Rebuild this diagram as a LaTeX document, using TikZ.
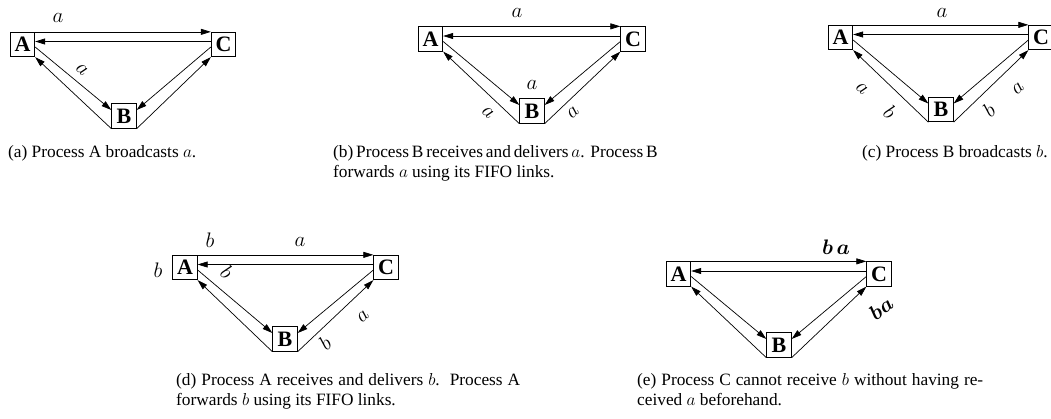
\RequirePackage{fix-cm}
\documentclass[tikz,border=0pt]{standalone}
\usepackage{fontspec}
\setmainfont{Liberation Serif}
\usepackage{bm}
\usetikzlibrary{arrows.meta}
\tikzset{
 box/.style={draw, line width=0.8pt, minimum size=24.5pt, inner sep=0pt, font=\fontsize{22}{22}\selectfont\bfseries},
 arr/.style={line width=0.7pt, -{Triangle[length=10pt,width=6pt]}},
 lab/.style={inner sep=0pt, font=\fontsize{21}{21}\selectfont},
 captext/.style={anchor=base west, inner sep=0pt, font=\fontsize{17.3}{20}\selectfont},
}
\newcommand\mytri[7]{%
 \node[box] (#1A) at (#2,#3) {A};
 \node[box] (#1C) at (#4,#5) {C};
 \node[box] (#1B) at (#6,#7) {B};
 \draw[arr] (#1A.north east) -- (#1C.north west);
 \draw[arr] ([yshift=3pt]#1C.west) -- ([yshift=3pt]#1A.east);
 \draw[arr] ([yshift=-2.5pt]#1A.east) -- ([yshift=6pt]#1B.west);
 \draw[arr] (#1B.south west) -- (#1A.south east);
 \draw[arr] ([yshift=-2.5pt]#1C.west) -- ([yshift=6pt]#1B.east);
 \draw[arr] (#1B.south east) -- (#1C.south west);
}
\begin{document}
\begin{tikzpicture}[x=1pt,y=-1pt]
\useasboundingbox (0,0) rectangle (1051,418);
% (a)
\mytri{a}{22.5}{44.5}{223.5}{44.5}{124}{116}
\node[lab] (la1) at (58,18) {$a$};
\node[lab,rotate=-42] (la2) at (82,70) {$a$};
% (b)
\mytri{b}{430.5}{39}{633}{39}{532}{111}
\node[lab] (lb1) at (517,13) {$a$};
\node[lab] (lb2) at (532,85) {$a$};
\node[lab,rotate=-42] (lb3) at (488,113) {$a$};
\node[lab,rotate=42] (lb4) at (573,113) {$a$};
% (c)
\mytri{c}{840.5}{37.5}{1041}{37.5}{941}{109.5}
\node[lab] (lc1) at (942,13) {$a$};
\node[lab,rotate=-42] (lc2) at (862,89) {$a$};
\node[lab,rotate=-42] (lc3) at (890,112) {$b$};
\node[lab,rotate=42] (lc4) at (989,110) {$b$};
\node[lab,rotate=42] (lc5) at (1018,89) {$a$};
% (d)
\mytri{d}{185}{267.5}{386}{267.5}{285}{339}
\node[lab] (ld1) at (158,270) {$b$};
\node[lab] (ld2) at (210,240) {$b$};
\node[lab] (ld3) at (300,242) {$a$};
\node[lab,rotate=-42] (ld4) at (227,272) {$b$};
\node[lab,rotate=42] (ld5) at (363,317) {$a$};
\node[lab,rotate=42] (ld6) at (325,343) {$b$};
% (e)
\mytri{e}{678.5}{274}{879}{274}{779}{345}
\node[lab] (le1) at (836,247) {$\bm{b\,a}$};
\node[lab,rotate=38] (le2) at (881,308) {$\bm{ba}$};
% captions
\node[captext] (capa) at (8,157) {(a) Process A broadcasts $a$.};
\node[captext] (capb1) at (333,157) {\makebox[320pt][s]{(b) Process B receives and delivers $a$.\ \ Process B}};
\node[captext] (capb2) at (333,177) {forwards $a$ using its FIFO links.};
\node[captext] (capc) at (862,157) {(c) Process B broadcasts $b$.};
\node[captext] (capd1) at (176,385) {\makebox[344pt][s]{(d) Process A receives and delivers $b$.\ \ Process A}};
\node[captext] (capd2) at (176,405) {forwards $b$ using its FIFO links.};
\node[captext] (cape1) at (637,385) {\makebox[346pt][s]{(e) Process C cannot receive $b$ without having re-}};
\node[captext] (cape2) at (637,405) {ceived $a$ beforehand.};
\end{tikzpicture}
\end{document}
